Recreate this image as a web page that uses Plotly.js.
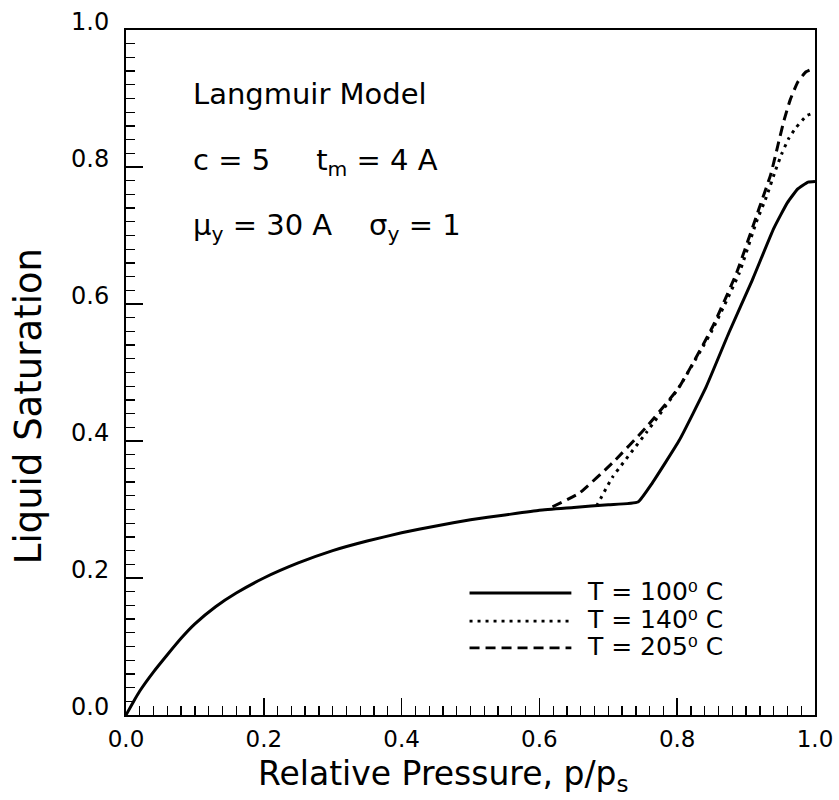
<!DOCTYPE html>
<html>
<head>
<meta charset="utf-8">
<script src="https://cdn.plot.ly/plotly-3.0.1.min.js"></script>
<style>html,body{margin:0;padding:0;background:#fff}</style>
</head>
<body>
<div id="chart" style="width:839px;height:800px"></div>
<script>
// T = 100 C (solid)
const p100 = [0.0, 0.01, 0.02, 0.04, 0.06, 0.08, 0.1, 0.13, 0.16, 0.2, 0.25, 0.3, 0.35, 0.4, 0.45, 0.5, 0.55, 0.6, 0.65, 0.7, 0.743, 0.764, 0.803, 0.842, 0.875, 0.909, 0.94, 0.96, 0.975, 0.99, 1.0];
const s100 = [0.0, 0.018, 0.035, 0.063, 0.088, 0.112, 0.133, 0.158, 0.178, 0.2, 0.222, 0.24, 0.254, 0.266, 0.276, 0.285, 0.292, 0.299, 0.303, 0.307, 0.311, 0.339, 0.401, 0.479, 0.558, 0.635, 0.71, 0.748, 0.768, 0.778, 0.779];
// T = 140 C (dotted)
const p140 = [0.683, 0.706, 0.755, 0.803, 0.851, 0.89, 0.915, 0.929, 0.943, 0.952, 0.962, 0.972, 0.988, 0.998];
const s140 = [0.305, 0.347, 0.412, 0.479, 0.562, 0.645, 0.72, 0.755, 0.796, 0.82, 0.842, 0.857, 0.875, 0.879];
// T = 205 C (dashed)
const p205 = [0.619, 0.658, 0.706, 0.755, 0.803, 0.851, 0.886, 0.919, 0.936, 0.946, 0.955, 0.964, 0.975, 0.987, 0.998];
const s205 = [0.304, 0.324, 0.368, 0.42, 0.479, 0.566, 0.645, 0.74, 0.79, 0.831, 0.868, 0.898, 0.924, 0.939, 0.944];

const legendNames = ['T = 100\u2070 C', 'T = 140\u2070 C', 'T = 205\u2070 C'];
const tickVals = [0, 0.2, 0.4, 0.6, 0.8, 1.0];
const tickText = ['0.0', '0.2', '0.4', '0.6', '0.8', '1.0'];

const FONT = 'DejaVu Sans, Liberation Sans, Arial, sans-serif';
const DASH = ['solid', '3px,5px', '10px,6px'];
const mkLine = (i) => ({color: '#000', width: 3, dash: DASH[i], shape: 'spline', smoothing: 0.4});

const traces = [
  {x: p100, y: s100, mode: 'lines', line: mkLine(0), name: legendNames[0]},
  {x: p140, y: s140, mode: 'lines', line: mkLine(1), name: legendNames[1]},
  {x: p205, y: s205, mode: 'lines', line: mkLine(2), name: legendNames[2]}
];

const axisBase = {
  range: [0, 1],
  tickvals: tickVals,
  ticktext: tickText,
  ticks: 'inside',
  ticklen: 17,
  tickwidth: 1.5,
  tickcolor: '#000',
  minor: {dtick: 0.02, tick0: 0, ticks: 'inside', ticklen: 9, tickwidth: 1.3, tickcolor: '#000'},
  showline: true,
  linecolor: '#000',
  linewidth: 2,
  mirror: true,
  showgrid: false,
  zeroline: false,
  tickfont: {family: FONT, size: 24, color: '#000'}
};

const annFont = {family: FONT, size: 29, color: '#000'};
const shapes = [];
const annotations = [
  {xref: 'paper', yref: 'paper', x: 0.094, y: 0.906, xanchor: 'left', yanchor: 'middle', showarrow: false,
   text: 'Langmuir Model', font: annFont},
  {xref: 'paper', yref: 'paper', x: 0.094, y: 0.807, xanchor: 'left', yanchor: 'middle', showarrow: false,
   text: 'c = 5     t<sub>m</sub> = 4 A', font: annFont},
  {xref: 'paper', yref: 'paper', x: 0.094, y: 0.713, xanchor: 'left', yanchor: 'middle', showarrow: false,
   text: '\u03bc<sub>y</sub> = 30 A    \u03c3<sub>y</sub> = 1', font: annFont},
  // axis titles
  {xref: 'paper', yref: 'paper', x: 0.461, y: -0.056, xanchor: 'center', yanchor: 'top', showarrow: false,
   borderpad: 0, text: 'Relative Pressure, p/p<sub>s</sub>', font: {family: FONT, size: 33, color: '#000'}},
  {xref: 'paper', yref: 'paper', x: -0.142, y: 0.451, xanchor: 'center', yanchor: 'middle', showarrow: false,
   textangle: -90, text: 'Liquid Saturation', font: {family: FONT, size: 37, color: '#000'}}
];
const legY = [0.178, 0.137, 0.098];
for (let i = 0; i < 3; i++) {
  shapes.push({type: 'line', xref: 'paper', yref: 'paper', x0: 0.4986, x1: 0.6464, y0: legY[i], y1: legY[i],
    line: {color: '#000', width: i === 0 ? 3 : 2.6, dash: DASH[i]}});
  annotations.push({xref: 'paper', yref: 'paper', x: 0.668, y: legY[i] + 0.002, xanchor: 'left', yanchor: 'middle',
    showarrow: false, borderpad: 0, text: legendNames[i], font: {family: FONT, size: 25, color: '#000'}});
}

const layout = {
  width: 839, height: 800,
  margin: {l: 126, r: 24, t: 30, b: 85},
  paper_bgcolor: '#fff', plot_bgcolor: '#fff',
  showlegend: false,
  font: {family: FONT, color: '#000'},
  xaxis: Object.assign({}, axisBase, {ticklabelstandoff: 2, tickfont: {family: FONT, size: 23, color: '#000'}}),
  yaxis: Object.assign({}, axisBase, {ticklabelstandoff: 10, ticklabelshift: -8}),
  shapes: shapes,
  annotations: annotations
};

Plotly.newPlot('chart', traces, layout, {displayModeBar: false, staticPlot: true});
</script>
</body>
</html>
